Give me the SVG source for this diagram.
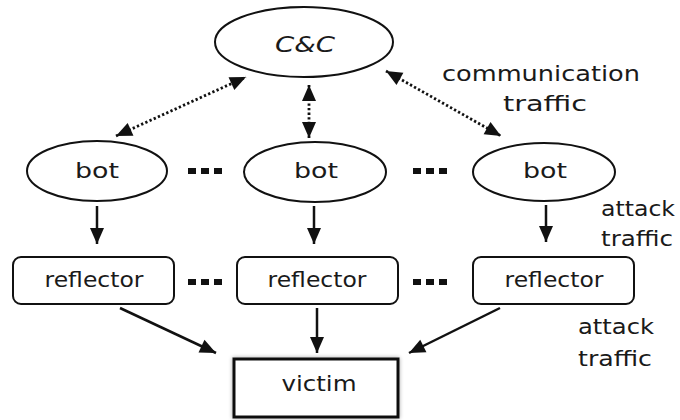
<svg xmlns="http://www.w3.org/2000/svg" width="680" height="420" viewBox="0 0 680 420">
  <style>
    .node { fill: #ffffff; stroke: #111111; stroke-width: 2; }
    .label { font-family: "DejaVu Sans", "Liberation Sans", sans-serif; font-size: 21px; fill: #1a1a1a; text-anchor: middle; }
    .note { font-family: "DejaVu Sans", "Liberation Sans", sans-serif; font-size: 21px; fill: #1a1a1a; }
    .solid { stroke: #111111; stroke-width: 2.5; fill: none; }
    .dotted { stroke: #111111; stroke-width: 2.8; stroke-dasharray: 2.3 2.3; fill: none; }
    .dots rect { fill: #111111; }
  </style>
  <defs>
    <marker id="head" markerUnits="userSpaceOnUse" markerWidth="18" markerHeight="18" viewBox="0 0 18 18" refX="17" refY="9" orient="auto-start-reverse">
      <path d="M1,2 L17,9 L1,16 Z" fill="#111111"/>
    </marker>
    <filter id="halo" x="-10%" y="-20%" width="120%" height="140%">
      <feGaussianBlur in="SourceAlpha" stdDeviation="2"/>
      <feComponentTransfer><feFuncA type="linear" slope="0.35"/></feComponentTransfer>
      <feMerge><feMergeNode/><feMergeNode in="SourceGraphic"/></feMerge>
    </filter>
  </defs>

  <rect width="680" height="420" fill="#ffffff"/>

  <!-- connectors -->
  <g id="connectors">
    <line class="dotted" x1="116" y1="136" x2="246" y2="77" marker-start="url(#head)" marker-end="url(#head)"/>
    <line class="dotted" x1="309" y1="85" x2="309" y2="138" marker-start="url(#head)" marker-end="url(#head)"/>
    <line class="dotted" x1="386" y1="71" x2="501" y2="136" marker-start="url(#head)" marker-end="url(#head)"/>

    <line class="solid" x1="97" y1="206" x2="97" y2="244" marker-end="url(#head)"/>
    <line class="solid" x1="314" y1="206" x2="314" y2="244" marker-end="url(#head)"/>
    <line class="solid" x1="546" y1="205" x2="546" y2="242" marker-end="url(#head)"/>

    <line class="solid" x1="120" y1="308" x2="216" y2="353" marker-end="url(#head)"/>
    <line class="solid" x1="317" y1="308" x2="317" y2="353" marker-end="url(#head)"/>
    <line class="solid" x1="500" y1="308" x2="409" y2="353" marker-end="url(#head)"/>
  </g>

  <!-- ellipsis markers between parallel nodes -->
  <g id="ellipses" class="dots">
    <rect x="188" y="168" width="8" height="6"/><rect x="201" y="168" width="8" height="6"/><rect x="214" y="168" width="8" height="6"/>
    <rect x="413" y="168" width="8" height="6"/><rect x="426" y="168" width="8" height="6"/><rect x="439" y="168" width="8" height="6"/>
    <rect x="188" y="279" width="8" height="6"/><rect x="201" y="279" width="8" height="6"/><rect x="214" y="279" width="8" height="6"/>
    <rect x="413" y="279" width="8" height="6"/><rect x="426" y="279" width="8" height="6"/><rect x="439" y="279" width="8" height="6"/>
  </g>

  <g id="cc">
    <ellipse class="node" cx="304" cy="42" rx="89" ry="35"/>
    <text class="label" x="305" y="52" font-style="italic" textLength="60" lengthAdjust="spacingAndGlyphs">C&amp;C</text>
  </g>

  <g id="bot1">
    <ellipse class="node" cx="97" cy="171" rx="70" ry="30"/>
    <text class="label" x="97" y="178" textLength="44" lengthAdjust="spacingAndGlyphs">bot</text>
  </g>
  <g id="bot2">
    <ellipse class="node" cx="315" cy="172" rx="71" ry="30"/>
    <text class="label" x="316" y="178" textLength="44" lengthAdjust="spacingAndGlyphs">bot</text>
  </g>
  <g id="bot3">
    <ellipse class="node" cx="544" cy="172" rx="71" ry="29"/>
    <text class="label" x="545" y="178" textLength="44" lengthAdjust="spacingAndGlyphs">bot</text>
  </g>

  <g id="reflector1">
    <rect class="node" x="13" y="257" width="161" height="47" rx="8"/>
    <text class="label" x="94" y="287" textLength="99" lengthAdjust="spacingAndGlyphs">reflector</text>
  </g>
  <g id="reflector2">
    <rect class="node" x="237" y="257" width="161" height="47" rx="8"/>
    <text class="label" x="317" y="287" textLength="99" lengthAdjust="spacingAndGlyphs">reflector</text>
  </g>
  <g id="reflector3">
    <rect class="node" x="473" y="257" width="161" height="47" rx="8"/>
    <text class="label" x="554" y="287" textLength="99" lengthAdjust="spacingAndGlyphs">reflector</text>
  </g>

  <g id="victim">
    <rect x="234" y="359" width="164" height="58" fill="#ffffff" stroke="#111111" stroke-width="3" filter="url(#halo)"/>
    <text class="label" x="319" y="391" textLength="75" lengthAdjust="spacingAndGlyphs">victim</text>
  </g>

  <!-- traffic annotations -->
  <g id="annotations">
    <text class="note" x="442" y="81" textLength="198" lengthAdjust="spacingAndGlyphs">communication</text>
    <text class="note" x="503" y="111" textLength="84" lengthAdjust="spacingAndGlyphs">traffic</text>
    <text class="note" x="601" y="216" textLength="74" lengthAdjust="spacingAndGlyphs">attack</text>
    <text class="note" x="601" y="246" textLength="72" lengthAdjust="spacingAndGlyphs">traffic</text>
    <text class="note" x="578" y="334" textLength="76" lengthAdjust="spacingAndGlyphs">attack</text>
    <text class="note" x="578" y="366" textLength="74" lengthAdjust="spacingAndGlyphs">traffic</text>
  </g>
</svg>
